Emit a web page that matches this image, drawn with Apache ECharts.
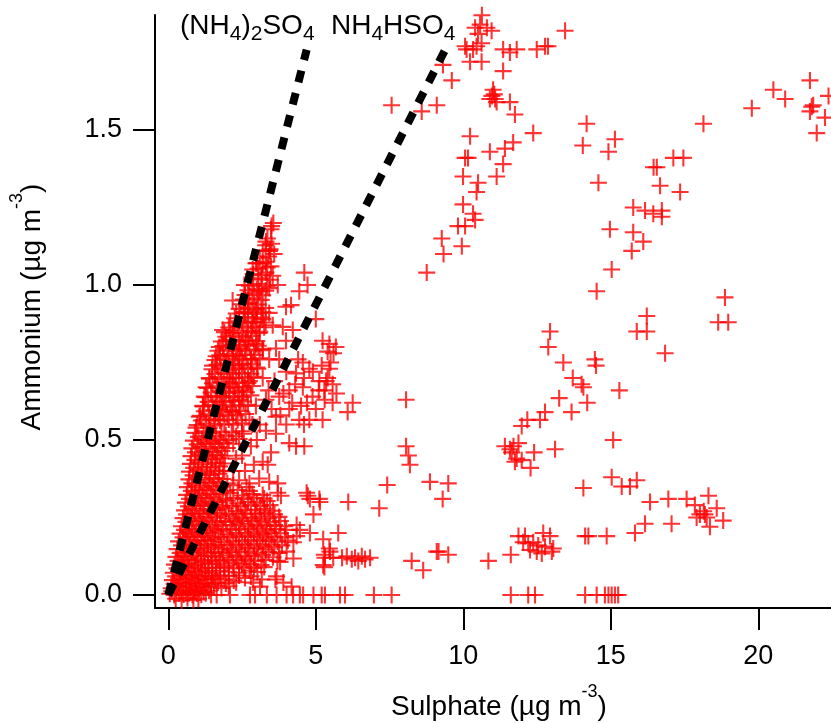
<!DOCTYPE html>
<html>
<head>
<meta charset="UTF-8">
<title>Ammonium vs Sulphate</title>
<script src="https://cdn.jsdelivr.net/npm/echarts@6/dist/echarts.min.js"></script>
<style>
  html, body { margin: 0; padding: 0; background: #fff; }
  #chart { width: 831px; height: 723px; }
</style>
</head>
<body>
<div id="chart"></div>
<script>
// tick labels
var xTicks = [0, 5, 10, 15, 20];
var yTicks = [0, 0.5, 1.0, 1.5];

// stoichiometric lines (sulphate, ammonium)
var sulphateLineA = [0, 4.69];   // (NH4)2SO4
var ammoniumLineA = [0, 1.759];
var sulphateLineB = [0, 9.38];   // NH4HSO4
var ammoniumLineB = [0, 1.758];

// measured points, [sulphate, ammonium]
// dense band near the origin
var originBand = [
  [0.25,-0.012],[0.45,-0.018],[0.65,-0.01],[0.85,-0.016],[1.02,-0.012],
  [0.05,0.004],[0.2,0.0],[0.36,0.006],[0.52,0.002],[0.68,0.008],[0.82,0.0],[0.97,0.005],[1.12,0.001],[1.27,0.006],[1.45,0.0],
  [0.12,0.012],[0.28,0.014],[0.44,0.01],[0.6,0.015],[0.75,0.011],[0.9,0.013],[1.05,0.016],[1.2,0.01],[1.38,0.014],
  [0.1,0.022],[0.3,0.028],[0.5,0.024],[0.71,0.03],[0.9,0.021],[1.1,0.027],[1.32,0.025],[1.55,0.03],[1.8,0.023],[2.05,0.028],
  [0.2,0.036],[0.4,0.04],[0.6,0.037],[0.8,0.041],[1.0,0.035],[1.22,0.039],[1.45,0.036],[1.68,0.04],[1.95,0.037],[2.3,0.041],
  [0.14,0.048],[0.35,0.053],[0.56,0.05],[0.76,0.055],[0.95,0.047],[1.16,0.052],[1.36,0.049],[1.6,0.054],[1.9,0.051],[2.22,0.047],[2.6,0.055],
  [0.25,0.06],[0.45,0.064],[0.66,0.061],[0.86,0.065],[1.06,0.059],[1.27,0.063],[1.48,0.06],[1.75,0.064],[2.05,0.061],[2.4,0.063],[2.8,0.06],
  [0.17,0.072],[0.4,0.078],[0.61,0.074],[0.8,0.079],[1.01,0.073],[1.25,0.077],[1.5,0.071],[1.76,0.078],[2.05,0.075],[2.4,0.072],[2.75,0.079],[3.02,0.074],
  [0.3,0.086],[0.5,0.09],[0.7,0.087],[0.9,0.091],[1.13,0.085],[1.37,0.089],[1.63,0.087],[1.9,0.09],[2.22,0.086],[2.57,0.09],[2.9,0.087],[3.25,0.09],
  [0.21,0.098],[0.45,0.103],[0.66,0.1],[0.9,0.097],[1.11,0.104],[1.35,0.099],[1.61,0.102],[1.9,0.096],[2.2,0.103],[2.5,0.098],[2.8,0.101],[3.15,0.097],
  [0.33,0.11],[0.56,0.114],[0.78,0.111],[1.0,0.115],[1.23,0.109],[1.48,0.113],[1.75,0.11],[2.05,0.114],[2.35,0.111],[2.65,0.115],[2.95,0.11],[3.3,0.113],[3.7,0.11],
  [0.26,0.123],[0.5,0.127],[0.71,0.122],[0.96,0.128],[1.2,0.124],[1.45,0.126],[1.7,0.121],[2.0,0.128],[2.3,0.123],[2.6,0.127],[2.9,0.124],[3.2,0.129],[3.55,0.122],
  [0.4,0.136],[0.62,0.14],[0.85,0.137],[1.1,0.141],[1.35,0.135],[1.6,0.139],[1.85,0.136],[2.15,0.14],[2.45,0.137],[2.75,0.141],[3.05,0.135],[3.4,0.139],[3.75,0.136],
  [0.3,0.148],[0.55,0.153],[0.8,0.149],[1.05,0.152],[1.3,0.147],[1.55,0.154],[1.8,0.15],[2.1,0.146],[2.4,0.153],[2.7,0.149],[3.0,0.152],[3.3,0.147],[3.6,0.154],
  [0.45,0.16],[0.7,0.164],[0.95,0.161],[1.2,0.165],[1.45,0.159],[1.7,0.163],[2.0,0.16],[2.3,0.164],[2.6,0.161],[2.9,0.165],[3.2,0.159],[3.5,0.163],[3.85,0.16],
  [0.35,0.173],[0.6,0.178],[0.85,0.172],[1.1,0.177],[1.35,0.174],[1.6,0.179],[1.9,0.171],[2.2,0.176],[2.5,0.173],[2.8,0.178],[3.1,0.174],[3.4,0.177],[3.7,0.172],[4.05,0.176],
  [0.5,0.186],[0.75,0.19],[1.0,0.187],[1.25,0.191],[1.5,0.185],[1.78,0.189],[2.08,0.186],[2.4,0.19],[2.7,0.187],[3.0,0.191],[3.3,0.185],[3.6,0.189],[3.95,0.186],[4.35,0.19],
  [0.4,0.198],[0.65,0.203],[0.9,0.197],[1.15,0.202],[1.42,0.199],[1.7,0.204],[2.0,0.196],[2.3,0.201],[2.6,0.198],[2.9,0.203],[3.2,0.197],[3.5,0.202],[3.8,0.199],
  [0.55,0.21],[0.8,0.214],[1.05,0.211],[1.3,0.215],[1.58,0.209],[1.85,0.213],[2.15,0.21],[2.45,0.214],[2.75,0.211],[3.05,0.215],[3.35,0.209],[3.65,0.213],[4.0,0.21],
  [0.45,0.222],[0.7,0.227],[0.95,0.223],[1.22,0.228],[1.5,0.221],[1.8,0.226],[2.1,0.224],[2.4,0.229],[2.7,0.222],[3.0,0.227],[3.3,0.223],[3.6,0.226],[3.95,0.222],
  [0.6,0.236],[0.85,0.24],[1.1,0.237],[1.38,0.241],[1.65,0.235],[1.95,0.239],[2.25,0.236],[2.55,0.24],[2.85,0.237],[3.15,0.241],[3.45,0.235],[3.8,0.239],
  [0.5,0.248],[0.75,0.253],[1.02,0.247],[1.3,0.252],[1.6,0.249],[1.9,0.254],[2.2,0.246],[2.5,0.251],[2.8,0.248],[3.1,0.253],[3.4,0.247],[3.75,0.252],
  [0.62,0.26],[0.9,0.264],[1.17,0.261],[1.45,0.265],[1.75,0.259],[2.05,0.263],[2.35,0.26],[2.65,0.264],[2.95,0.261],[3.28,0.265],[3.6,0.26],
  [0.55,0.273],[0.8,0.278],[1.06,0.272],[1.35,0.277],[1.65,0.274],[1.95,0.279],[2.3,0.271],[2.6,0.276],[2.95,0.273],[3.25,0.278],[3.55,0.272],
  [0.68,0.286],[0.95,0.29],[1.22,0.287],[1.52,0.291],[1.82,0.285],[2.15,0.289],[2.45,0.286],[2.8,0.29],[3.12,0.287],[3.45,0.29],
  [0.58,0.298],[0.85,0.303],[1.1,0.297],[1.4,0.302],[1.7,0.299],[2.0,0.304],[2.35,0.296],[2.7,0.301],[3.0,0.298],[3.35,0.303],
  [0.72,0.31],[1.0,0.314],[1.27,0.311],[1.55,0.315],[1.85,0.309],[2.2,0.313],[2.55,0.31],[2.9,0.314],[3.25,0.311],
  [0.62,0.323],[0.9,0.328],[1.15,0.322],[1.45,0.327],[1.75,0.324],[2.1,0.329],[2.5,0.321],[2.85,0.326],[3.2,0.323],
  [0.78,0.336],[1.05,0.34],[1.32,0.337],[1.62,0.341],[1.95,0.335],[2.35,0.339],[2.75,0.336],
  [0.65,0.348],[0.92,0.353],[1.2,0.347],[1.5,0.352],[1.8,0.349],[2.2,0.354],[2.65,0.348],
  [0.8,0.36],[1.08,0.364],[1.38,0.361],[1.68,0.365],[2.0,0.36],
  [0.7,0.373],[0.96,0.378],[1.25,0.372],[1.55,0.377],[1.85,0.374],
  [0.84,0.386],[1.12,0.39],[1.42,0.387],[1.72,0.391],
  [0.72,0.398],[1.0,0.403],[1.3,0.397],[1.6,0.402],[1.9,0.399],
  [0.86,0.41],[1.15,0.414],[1.45,0.411],[1.74,0.415],
  [0.75,0.423],[1.02,0.428],[1.31,0.422],[1.6,0.427],[1.86,0.424],
  [0.9,0.436],[1.18,0.44],[1.48,0.437],[1.78,0.441],
  [0.77,0.448],[1.05,0.453],[1.35,0.447],[1.65,0.452],[1.92,0.449],
  [0.92,0.46],[1.22,0.464],[1.52,0.461],[1.82,0.465],
  [0.8,0.473],[1.1,0.478],[1.4,0.472],[1.7,0.477],[2.0,0.474],
  [0.98,0.486],[1.28,0.49],[1.58,0.487],[1.88,0.491],[2.2,0.488],
  [0.85,0.498],[1.15,0.503],[1.45,0.497],[1.75,0.502],[2.05,0.499],[2.4,0.503],
  [1.02,0.51],[1.32,0.514],[1.62,0.511],[1.95,0.515],[2.3,0.512],
  [0.9,0.523],[1.2,0.528],[1.5,0.522],[1.8,0.527],[2.15,0.524],[2.5,0.528]
];

// upper band along the (NH4)2SO4 line
var upperBand = [
  [0.98,0.548],[1.28,0.553],[1.58,0.547],[1.9,0.552],[2.2,0.549],[2.5,0.554],
  [1.12,0.563],[1.43,0.567],[1.75,0.562],[2.05,0.566],[2.35,0.564],
  [1.08,0.578],[1.38,0.583],[1.7,0.577],[2.0,0.582],[2.3,0.579],[2.62,0.584],
  [1.22,0.593],[1.55,0.597],[1.85,0.592],[2.15,0.596],[2.45,0.594],
  [1.18,0.608],[1.5,0.613],[1.8,0.607],[2.1,0.612],[2.4,0.609],[2.7,0.614],
  [1.35,0.623],[1.65,0.627],[1.95,0.622],[2.25,0.626],[2.55,0.624],
  [1.27,0.638],[1.6,0.643],[1.9,0.637],[2.2,0.642],[2.5,0.639],[2.8,0.644],
  [1.45,0.653],[1.75,0.657],[2.05,0.652],[2.35,0.656],[2.65,0.654],
  [1.33,0.668],[1.65,0.673],[1.95,0.667],[2.25,0.672],[2.55,0.669],[2.85,0.674],
  [1.5,0.683],[1.8,0.687],[2.1,0.682],[2.4,0.686],[2.7,0.684],
  [1.4,0.698],[1.7,0.703],[2.0,0.697],[2.3,0.702],[2.6,0.699],[2.9,0.704],
  [1.58,0.713],[1.88,0.717],[2.18,0.712],[2.5,0.716],[2.8,0.714],
  [1.48,0.728],[1.78,0.733],[2.08,0.727],[2.4,0.732],[2.7,0.729],[3.0,0.734],
  [1.65,0.743],[1.95,0.747],[2.25,0.742],[2.55,0.746],[2.85,0.744],
  [1.58,0.758],[1.88,0.763],[2.2,0.757],[2.5,0.762],[2.8,0.759],[3.1,0.764],
  [1.75,0.773],[2.05,0.777],[2.35,0.772],[2.65,0.776],[2.95,0.774],
  [1.68,0.788],[2.0,0.793],[2.3,0.787],[2.6,0.792],[2.9,0.789],[3.2,0.794],
  [1.85,0.803],[2.15,0.807],[2.45,0.802],[2.75,0.806],[3.05,0.804],
  [1.8,0.818],[2.1,0.823],[2.4,0.817],[2.7,0.822],[3.0,0.819],
  [1.95,0.833],[2.25,0.837],[2.55,0.832],[2.85,0.836],
  [1.9,0.848],[2.2,0.853],[2.5,0.847],[2.8,0.852],[3.1,0.849],
  [2.05,0.863],[2.35,0.867],[2.65,0.862],[2.95,0.866],[3.25,0.864],
  [2.1,0.878],[2.4,0.883],[2.7,0.877],[3.0,0.882],[3.3,0.879],
  [2.25,0.893],[2.55,0.897],[2.85,0.892],[3.15,0.896],
  [2.3,0.908],[2.6,0.913],[2.9,0.907],[3.2,0.912],
  [2.4,0.923],[2.7,0.927],[3.0,0.922],[3.3,0.926],
  [2.45,0.938],[2.75,0.943],[3.05,0.937],
  [2.55,0.953],[2.85,0.957],[3.15,0.952],
  [2.6,0.968],[2.9,0.973],[3.2,0.967],
  [2.7,0.983],[3.0,0.987],[3.3,0.982],
  [2.75,0.998],[3.05,1.003],[3.35,0.997],
  [2.85,1.018],[3.15,1.022],[3.45,1.017],
  [2.88,1.035],[3.18,1.032],[3.05,1.053],[3.35,1.057],[3.0,1.07],[3.3,1.075],[3.1,1.088],[3.4,1.092],
  [3.2,1.11],[3.45,1.115],[3.3,1.128],[3.5,1.133],[3.36,1.15],[3.5,1.19],
  [3.56,1.20],[3.48,1.18],[3.31,1.14],[3.43,1.11],[3.59,1.10],[2.97,1.07],[3.2,1.07],[3.48,1.06],[2.86,1.05],[3.31,1.04],
  [3.54,1.03],[3.71,1.0],[2.58,1.0],[3.42,0.99],[3.08,0.98],[2.18,0.95],[2.69,0.94],[2.97,0.92],[3.42,0.91],[2.58,0.91],
  [3.2,0.89],[2.86,0.88],[3.54,0.87],[3.88,0.865],[1.84,0.855],[2.18,0.845],[3.08,0.845],[2.63,0.82],[1.96,0.82],[2.97,0.81],
  [1.73,0.80],[2.41,0.795],[3.2,0.79],[3.65,0.795],[1.62,0.77],[2.18,0.77],[2.80,0.76],[3.42,0.76],[1.50,0.74],[2.41,0.74],
  [3.03,0.73],[1.39,0.70],[2.18,0.70],[2.75,0.69],[1.28,0.67],[2.07,0.67],[2.52,0.66],[1.22,0.64],[1.84,0.64],[2.41,0.63],
  [1.17,0.61],[1.73,0.60],[2.18,0.59],[1.05,0.575],[1.56,0.565],[0.94,0.54],[1.39,0.54]
];

// cluster between the two lines and right of NH4HSO4
var midCluster = [
  [4.61,1.04],[4.72,1.0],[4.44,0.98],[4.16,0.935],[3.99,0.93],[5.0,0.89],[4.22,0.855],[3.99,0.82],[5.23,0.82],[5.46,0.81],
  [5.68,0.80],[5.40,0.785],[3.76,0.76],[4.56,0.75],[4.78,0.73],[4.33,0.715],[5.12,0.69],[5.35,0.69],[5.46,0.73],[5.57,0.68],
  [5.29,0.66],[4.56,0.67],[4.10,0.66],[4.89,0.64],[5.57,0.62],[6.25,0.62],[6.08,0.59],[4.50,0.61],[4.10,0.60],[3.65,0.575],
  [4.44,0.565],[4.78,0.565],[5.23,0.565],[3.31,0.63],[3.76,0.64],[2.97,0.61],[2.75,0.565],
  [4.0,0.72],[4.3,0.68],[4.6,0.70],[4.9,0.72],[5.2,0.74],[3.9,0.65],[4.2,0.62],[4.7,0.62],[5.0,0.60],[5.3,0.63],
  [3.8,0.58],[4.0,0.55],[4.6,0.55],[5.5,0.75],[5.6,0.78],[5.4,0.70],[3.6,0.69],[3.4,0.66],[3.2,0.70],[3.5,0.60],
  [4.4,0.76],[5.1,0.66],[5.7,0.65],
  [3.31,0.53],[3.65,0.52],[4.10,0.49],[4.33,0.48],[4.61,0.48],[3.48,0.46],[3.2,0.43],[3.37,0.42],[3.08,0.376],[3.42,0.365],
  [3.71,0.36],[3.82,0.32],[3.71,0.33],[2.5,0.45],[2.8,0.48],[2.6,0.40],[2.9,0.42],[2.4,0.37],[2.75,0.36],[3.0,0.50],
  [2.3,0.44],[2.55,0.52],[2.85,0.55],[3.1,0.55],[2.2,0.40]
];

// low ammonium spread to the right of the dense region
var lowSpread = [
  [6.10,0.30],[5.14,0.30],[4.80,0.31],[4.69,0.33],[4.92,0.26],[5.76,0.20],[5.25,0.18],[5.48,0.14],[5.59,0.12],[5.31,0.12],
  [5.25,0.097],[5.89,0.12],[6.05,0.125],[6.22,0.115],[6.33,0.12],[6.44,0.11],[6.56,0.125],[6.67,0.115],[6.84,0.12],
  [3.63,0.05],[3.90,0.04],[4.18,0.027],[3.67,0.06],[2.88,0.04],[3.11,0.027],[3.17,0.05],[4.46,0.21],[4.80,0.20],[4.35,0.226],
  [4.24,0.17],[4.01,0.14],[4.24,0.118],[3.79,0.107],[4.73,0.32],[5.12,0.31],[5.46,0.15],[5.29,0.13],[5.29,0.09],
  [1.64,0.0],[2.09,0.0],[2.77,0.0],[2.94,0.0],[3.34,0.0],[3.67,0.0],[4.01,0.0],[4.23,0.0],[4.46,0.0],[4.57,0.0],
  [4.92,0.0],[5.20,0.0],[5.31,0.0],[5.82,0.0],[5.99,0.0],[6.97,0.0],[7.57,0.0]
];

// scattered points at higher sulphate
var farPoints = [
  [10.63,1.87],[10.57,1.84],[10.40,1.83],[10.80,1.83],[10.96,1.82],[10.50,1.81],[10.06,1.77],[10.45,1.77],[10.62,1.78],[10.11,1.76],
  [10.33,1.76],[10.62,1.72],[10.23,1.72],[9.31,1.71],[9.61,1.66],[11.35,1.76],[11.58,1.75],[11.81,1.76],[11.35,1.69],[12.49,1.76],
  [12.77,1.77],[12.87,1.77],[13.45,1.82],[7.57,1.58],[8.59,1.56],[9.10,1.58],[11.01,1.63],[11.08,1.60],[10.90,1.60],[11.13,1.59],
  [11.05,1.615],[10.97,1.61],[11.58,1.59],[11.75,1.55],[12.37,1.49],[10.23,1.48],[10.06,1.41],[10.16,1.41],[10.90,1.43],[11.41,1.44],
  [11.69,1.46],[11.35,1.39],[9.99,1.35],[10.50,1.33],[11.13,1.35],[10.45,1.30],[9.99,1.26],[10.33,1.23],[10.40,1.21],[9.82,1.19],
  [10.06,1.19],[9.27,1.15],[9.95,1.125],[9.33,1.10],[8.76,1.04],
  [14.18,1.52],[14.05,1.45],[15.14,1.47],[14.92,1.43],[14.58,1.33],[16.56,1.38],[16.45,1.38],[17.12,1.41],[17.46,1.41],[16.67,1.32],
  [17.35,1.30],[15.76,1.25],[16.16,1.24],[16.44,1.23],[16.73,1.24],[16.73,1.22],[14.97,1.18],[15.76,1.17],[16.10,1.14],[15.71,1.11],
  [15.03,1.05],[14.52,0.98],[18.14,1.52],[19.78,1.57],[20.51,1.63],[20.91,1.60],[21.75,1.66],[22.38,1.61],[21.81,1.575],[21.75,1.56],
  [21.86,1.58],[22.26,1.54],[21.98,1.49],
  [18.87,0.96],[18.64,0.88],[18.98,0.88],[16.22,0.90],[15.88,0.85],[16.22,0.85],[16.84,0.78],[15.29,0.66],[15.08,0.50],[15.03,0.38],
  [15.37,0.35],[15.65,0.35],[15.88,0.37],[16.33,0.30],[16.95,0.31],[17.57,0.31],[17.85,0.29],[18.31,0.32],[18.59,0.28],[18.02,0.26],
  [18.19,0.26],[17.91,0.25],[18.36,0.22],[18.81,0.24],[16.16,0.23],[15.82,0.20],[17.06,0.23],[14.86,0.19],[18.15,0.27],[18.25,0.25],
  [12.94,0.85],[12.88,0.80],[13.39,0.75],[14.46,0.76],[14.50,0.74],[13.71,0.70],[14.01,0.68],[14.07,0.67],[13.25,0.635],[14.20,0.62],
  [13.67,0.59],[12.77,0.59],[12.60,0.565],[12.17,0.565],[11.98,0.545],[11.41,0.48],[11.58,0.47],[11.70,0.48],[11.87,0.49],[11.64,0.46],
  [11.81,0.44],[11.98,0.435],[11.75,0.43],[12.40,0.46],[12.28,0.41],[13.11,0.47],[14.07,0.345],
  [11.87,0.19],[12.09,0.19],[12.03,0.17],[12.20,0.167],[12.37,0.17],[12.54,0.16],[12.71,0.20],[12.94,0.19],[12.77,0.156],[13.0,0.14],
  [12.49,0.14],[12.66,0.134],[13.05,0.15],[12.26,0.145],[14.13,0.19],[14.24,0.19],[11.61,0.13],[10.85,0.11],
  [8.06,0.63],[8.06,0.48],[8.14,0.45],[8.19,0.42],[7.42,0.355],[7.15,0.28],[8.87,0.365],[9.49,0.36],[9.30,0.31],[9.16,0.14],
  [9.49,0.13],[8.25,0.11],[8.64,0.08],[9.10,0.14],
  [11.61,0.0],[12.20,0.0],[12.43,0.0],[14.13,0.0],[14.52,0.0],[14.80,0.0],[14.92,0.0],[15.03,0.0],[15.14,0.0],[15.25,0.0]
];

var FONT = 'Liberation Sans, Arial, sans-serif';
var plusSymbol = 'path://M-1.1,-9 h2.2 v7.9 h7.9 v2.2 h-7.9 v7.9 h-2.2 v-7.9 h-7.9 v-2.2 h7.9 z';

function pairs(xs, ys) {
  return xs.map(function (x, i) { return [x, ys[i]]; });
}

var chart = echarts.init(document.getElementById('chart'));

var nameRich = {
  b: { fontSize: 28, lineHeight: 28, padding: [10, 0, 0, 0], verticalAlign: 'top', fontFamily: FONT, fill: '#000' },
  p: { fontSize: 18, lineHeight: 18, verticalAlign: 'top', fontFamily: FONT, fill: '#000' }
};
var formulaRich = {
  n: { fontSize: 28, lineHeight: 28, verticalAlign: 'top', fontFamily: FONT, fill: '#000' },
  s: { fontSize: 21, lineHeight: 21, padding: [12, 0, 0, 0], verticalAlign: 'top', fontFamily: FONT, fill: '#000' }
};

var option = {
  animation: false,
  backgroundColor: '#fff',
  grid: { left: 155, right: 0, top: 15, bottom: 115 },
  xAxis: {
    type: 'value',
    min: -0.451,
    max: 22.464,
    splitLine: { show: false },
    axisLine: { onZero: false, lineStyle: { color: '#000', width: 2 } },
    axisTick: { customValues: xTicks, length: 22, lineStyle: { color: '#000', width: 2 } },
    axisLabel: { customValues: xTicks, margin: 35, fontSize: 27, color: '#000', fontFamily: FONT }
  },
  yAxis: {
    type: 'value',
    min: -0.0419,
    max: 1.871,
    splitLine: { show: false },
    axisLine: { onZero: false, lineStyle: { color: '#000', width: 2 } },
    axisTick: { customValues: yTicks, length: 22, lineStyle: { color: '#000', width: 2 } },
    axisLabel: {
      customValues: yTicks, margin: 33, fontSize: 27, color: '#000', fontFamily: FONT,
      formatter: function (v) { return v.toFixed(1); }
    }
  },
  graphic: [
    {
      type: 'text', x: 180, y: 12, z: 10,
      style: { text: '{n|(NH}{s|4}{n|)}{s|2}{n|SO}{s|4}', rich: formulaRich, align: 'left', verticalAlign: 'top' }
    },
    {
      type: 'text', x: 331, y: 12, z: 10,
      style: { text: '{n|NH}{s|4}{n|HSO}{s|4}', rich: formulaRich, align: 'left', verticalAlign: 'top' }
    },
    {
      type: 'text', x: 499, y: 683,
      style: { text: '{b|Sulphate (µg m}{p|-3}{b|)}', rich: nameRich, align: 'center', verticalAlign: 'top' }
    },
    {
      type: 'text', x: 8.5, y: 307, rotation: Math.PI / 2,
      style: { text: '{b|Ammonium (µg m}{p|-3}{b|)}', rich: nameRich, align: 'center', verticalAlign: 'top' }
    }
  ],
  series: [
    {
      type: 'scatter',
      z: 2,
      symbol: plusSymbol,
      symbolSize: 17,
      itemStyle: { color: '#ff0000' },
      data: originBand.concat(upperBand, midCluster, lowSpread, farPoints)
    },
    {
      type: 'line',
      z: 3,
      symbol: 'none',
      lineStyle: { color: '#000', width: 8, type: [12, 11] },
      data: pairs(sulphateLineA, ammoniumLineA)
    },
    {
      type: 'line',
      z: 3,
      symbol: 'none',
      lineStyle: { color: '#000', width: 8, type: [12, 11] },
      data: pairs(sulphateLineB, ammoniumLineB)
    }
  ]
};

chart.setOption(option);
</script>
</body>
</html>
